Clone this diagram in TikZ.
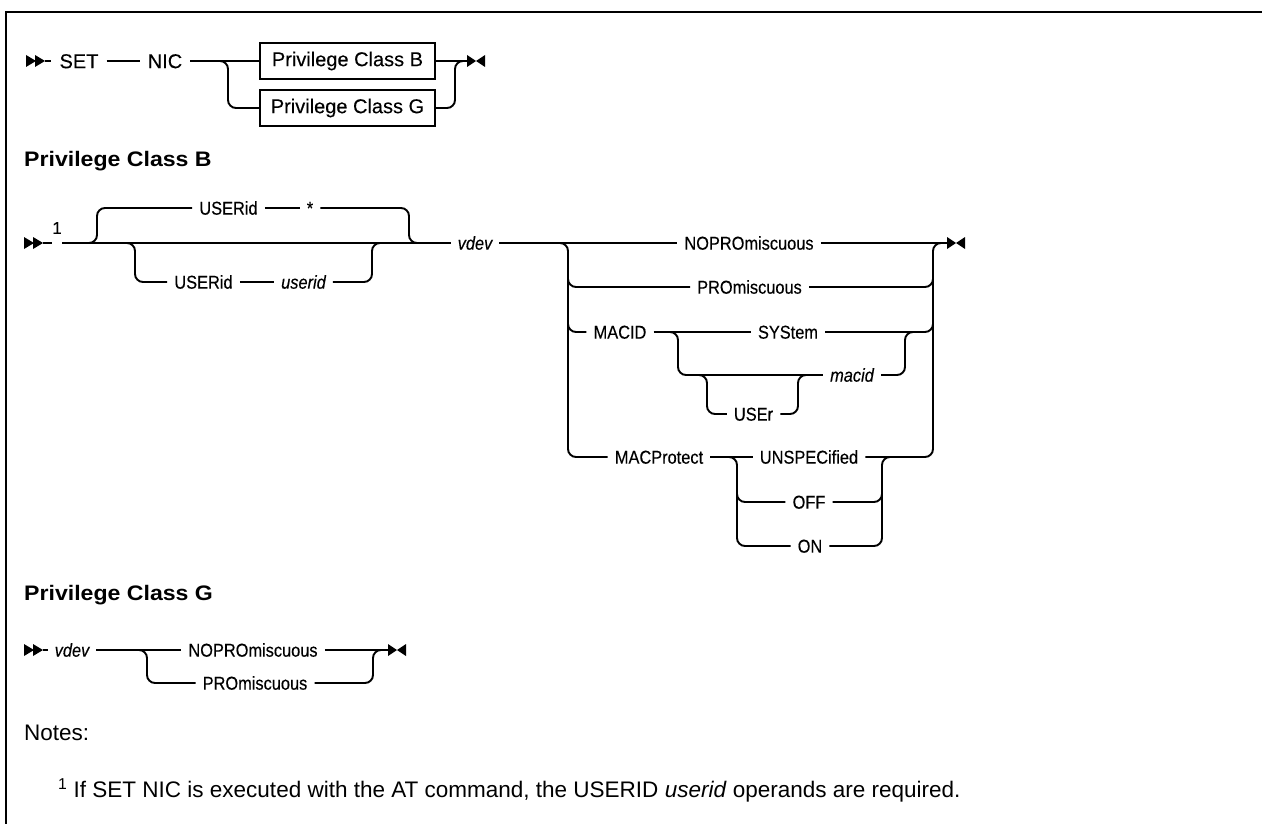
\documentclass[tikz,border=0pt]{standalone}
\usepackage{fontspec}
\setmainfont{Liberation Sans}
\newfontfamily\cf[FakeStretch=0.88,FakeBold=0.3]{Liberation Sans}
\newfontfamily\rf[FakeBold=0.2]{Liberation Sans}
\newfontfamily\hf[FakeStretch=1.1]{Liberation Sans}
\begin{document}
\begin{tikzpicture}[x=1pt,y=-1pt,
  ln/.style={line width=1.9pt, rounded corners=8pt},
  lab/.style={font=\cf\fontsize{18.6}{20}\selectfont, inner xsep=7pt, inner ysep=0pt, text height=13.3pt, text depth=0pt},
  labi/.style={lab, font=\cf\itshape\fontsize{18.6}{20}\selectfont},
  big/.style={font=\rf\fontsize{20}{22}\selectfont, inner xsep=8pt, inner ysep=0pt, text height=14.3pt, text depth=0pt},
  box/.style={draw, line width=1.9pt, minimum width=175pt, minimum height=36pt, inner sep=0pt, font=\rf\fontsize{20}{22}\selectfont},
  head/.style={anchor=base west, inner sep=0pt, font=\hf\bfseries\fontsize{21}{24}\selectfont},
  note/.style={anchor=base west, inner sep=0pt, font=\fontsize{22.5}{26}\selectfont},
  pics/startarr/.style={code={
    \fill (0,-6) -- (10,0) -- (0,6) -- cycle;
    \fill (9,-6) -- (19,0) -- (9,6) -- cycle;}},
  pics/endarr/.style={code={
    \fill (0,-6) -- (9,0) -- (0,6) -- cycle;
    \fill (18,-6) -- (9,0) -- (18,6) -- cycle;}}
]
\useasboundingbox (0,0) rectangle (1262,824);
% frame
\draw[line width=2pt] (1262,12) -- (6,12) -- (6,824);

% ---------- Row 1 ----------
\pic at (26,61) {startarr};
\coordinate (s1) at (45,61);
\node[big] (set) at (79,61) {SET};
\node[big] (nic) at (165,61) {NIC};
\node[box] (pb) at (347.5,61) {Privilege Class B};
\node[box] (pg) at (347.5,108) {Privilege Class G};
\coordinate (e1) at (467,61);
\draw[ln] (s1) -- (set);
\draw[ln] (set) -- (nic);
\draw[ln] (nic) -- (pb);
\draw[ln] (212,61) -| (228,108) -- (pg.west);
\draw[ln] (pb.east) -- (e1);
\draw[ln] (pg.east) -| (455,61) -- (463,61);
\pic at (e1) {endarr};

% ---------- Privilege Class B ----------
\node[head] (hb) at (24,167) {Privilege Class B};
\pic at (24,243) {startarr};
\coordinate (b0) at (43,243);
\coordinate (b1) at (52,243);
\coordinate (b2) at (62,243);
\node[inner sep=0pt, font=\rf\fontsize{17}{17}\selectfont] (fn1) at (57,228) {1};
\node[labi] (vdevb) at (475,243) {vdev};
\draw[ln] (b0) -- (b1);
\draw[ln] (b2) -- (vdevb);
% default (above)
\node[lab] (uid1) at (228.5,208) {USERid};
\node[lab] (star) at (310,208) {*};
\draw[ln] (89,243) -| (97,208) -- (uid1.west);
\draw[ln] (uid1) -- (star);
\draw[ln] (star.east) -| (409,243) -- (417,243);
% below
\node[lab] (uid2) at (203.5,282) {USERid};
\node[labi] (uidv) at (303.5,282) {userid};
\draw[ln] (127,243) -| (135,282) -- (uid2.west);
\draw[ln] (uid2) -- (uidv);
\draw[ln] (uidv.east) -| (372,243) -- (380,243);

% choice block
\node[lab] (nopro) at (749,243) {NOPROmiscuous};
\node[lab] (pro) at (749.5,287) {PROmiscuous};
\node[lab] (macid) at (620,332) {MACID};
\node[lab] (sys) at (788,332) {SYStem};
\node[labi] (mval) at (852,375) {macid};
\node[lab] (user) at (753.5,414) {USEr};
\node[lab] (macp) at (659,457) {MACProtect};
\node[lab] (unsp) at (809,457) {UNSPECified};
\node[lab] (off) at (809,502) {OFF};
\node[lab] (on) at (810,546) {ON};
\coordinate (eb) at (947,243);

\draw[ln] (vdevb) -- (nopro);
\draw[ln] (nopro.east) -- (eb);
\pic at (eb) {endarr};
\draw[ln] (560,243) -| (568,457) -- (macp.west);
\draw[ln] (568,265) |- (pro.west);
\draw[ln] (pro.east) -| (933,265);
\draw[ln] (568,310) |- (macid.west);
\draw[ln] (macid) -- (sys);
\draw[ln] (sys.east) -| (933,310);
\draw[ln] (670,332) -| (678,375) -- (mval.west);
\draw[ln] (mval.east) -| (905,332) -- (913,332);
\draw[ln] (699,375) -| (707,414) -- (user.west);
\draw[ln] (user.east) -| (798,375) -- (806,375);
\draw[ln] (macp) -- (unsp);
\draw[ln] (unsp.east) -| (933,243) -- (941,243);
\draw[ln] (729,457) -| (737,546) -- (on.west);
\draw[ln] (737,480) |- (off.west);
\draw[ln] (on.east) -| (882,457) -- (890,457);
\draw[ln] (off.east) -| (882,480);

% ---------- Privilege Class G ----------
\node[head] (hg) at (24,600) {Privilege Class G};
\pic at (24,650) {startarr};
\coordinate (g0) at (43,650);
\node[labi] (vdevg) at (72,650) {vdev};
\node[lab] (nopg) at (253,650) {NOPROmiscuous};
\node[lab] (prog) at (255,683) {PROmiscuous};
\coordinate (eg) at (388,650);
\draw[ln] (g0) -- (vdevg);
\draw[ln] (vdevg) -- (nopg);
\draw[ln] (nopg.east) -- (eg);
\pic at (eg) {endarr};
\draw[ln] (139,650) -| (147,683) -- (prog.west);
\draw[ln] (prog.east) -| (373,650) -- (381,650);

% ---------- Notes ----------
\node[note] (notes) at (24,740) {Notes:};
\node[note] (fn) at (58,797) {\textsuperscript{1} If SET NIC is executed with the AT command, the USERID \textit{userid} operands are required.};
\end{tikzpicture}
\end{document}
